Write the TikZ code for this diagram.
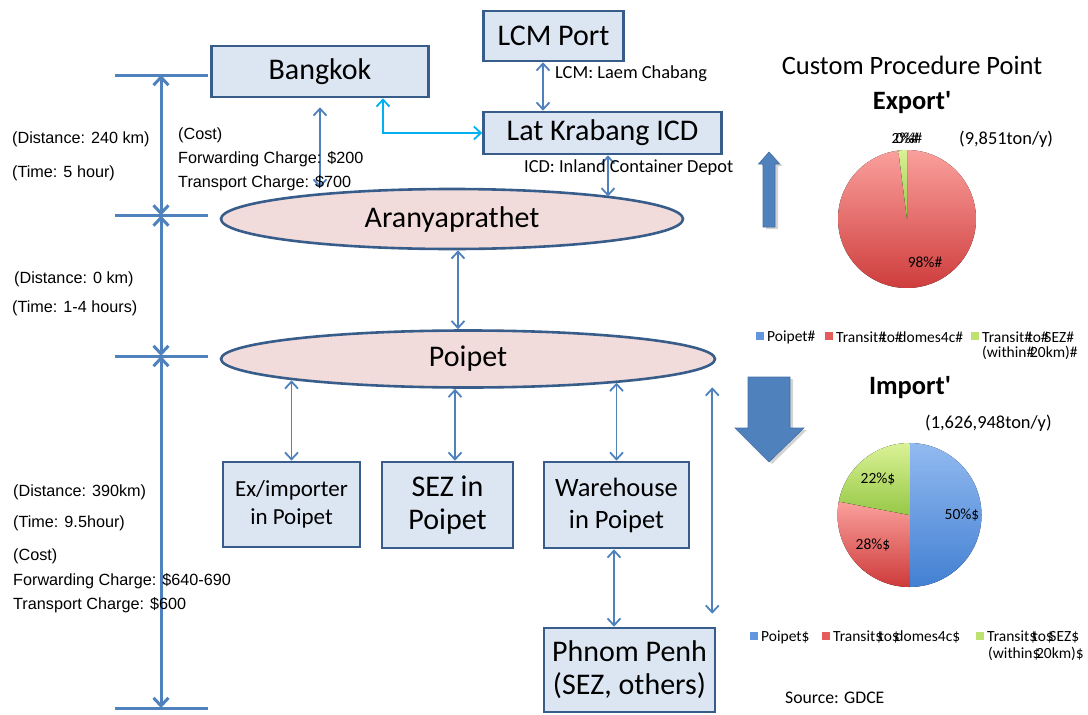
\documentclass[tikz,border=0pt]{standalone}
\usepackage{fontspec}
\setmainfont{Carlito}[Ligatures=TeXOff]
\newfontfamily\arialfont{Liberation Sans}
\usetikzlibrary{arrows.meta,shapes.geometric,shadows}
\definecolor{boxfill}{RGB}{220,230,242}
\definecolor{boxline}{RGB}{56,93,138}
\definecolor{ellfill}{RGB}{242,220,219}
\definecolor{linkblue}{RGB}{79,129,189}
\definecolor{linkcyan}{RGB}{0,176,240}
\definecolor{redtop}{RGB}{250,160,156}
\definecolor{redbot}{RGB}{205,58,58}
\definecolor{bluetop}{RGB}{146,186,240}
\definecolor{bluebot}{RGB}{66,128,210}
\definecolor{greentop}{RGB}{218,242,150}
\definecolor{greenbot}{RGB}{150,200,70}
\definecolor{legblue}{RGB}{98,150,222}
\definecolor{legred}{RGB}{228,92,92}
\definecolor{leggreen}{RGB}{190,226,112}
\newcommand\sz[2]{\fontsize{#1pt}{#2pt}\selectfont}
% a separator glyph that runs into the following letter
\newcommand\sep[1]{\makebox[3.5pt][l]{#1}}
\begin{document}
\begin{tikzpicture}[x=1pt,y=-1pt,
  box/.style={draw=boxline, line width=2.6pt, fill=boxfill, inner sep=0pt,
    align=center, font=\sz{30}{33}},
  place/.style={ellipse, draw=boxline, line width=2.6pt, fill=ellfill,
    inner sep=0pt, font=\sz{30}{33}},
  conn/.style={linkblue, line width=1.8pt,
    {Straight Barb[length=7pt,width=13pt]}-{Straight Barb[length=7pt,width=13pt]}},
  cyanconn/.style={linkcyan, line width=1.8pt,
    {Straight Barb[length=7pt,width=13pt]}-{Straight Barb[length=7pt,width=13pt]}},
  dimline/.style={linkblue, line width=3pt,
    {Straight Barb[length=8pt,width=15pt]}-{Straight Barb[length=8pt,width=15pt]}},
  tickline/.style={linkblue, line width=3pt},
  note/.style={font=\arialfont\sz{16.2}{19}, anchor=west, inner sep=0pt},
  cnote/.style={font=\sz{18.4}{21}, anchor=west, inner sep=0pt},
  pielabel/.style={font=\sz{15.5}{17}, inner sep=0pt},
  legend/.style={font=\sz{15.5}{18}, anchor=west, inner sep=0pt},
  legbox/.style={minimum size=7.5pt, inner sep=0pt},
  blockarrow/.style={fill=linkblue, draw=linkblue!85!black, line width=0.6pt,
    drop shadow={shadow xshift=3pt, shadow yshift=-2pt, opacity=0.35}}
]
\useasboundingbox (0,0) rectangle (1088,715);

% places and facilities
\node[box, minimum width=217pt, minimum height=51pt] (bkk) at (320,71.5) {Bangkok};
\node[box, minimum width=140pt, minimum height=50pt] (lcm) at (553.5,36) {LCM Port};
\node[box, minimum width=238pt, minimum height=42pt] (lat) at (602.5,133) {Lat Krabang ICD};
\node[place, minimum width=462pt, minimum height=60pt] (ara) at (452,219) {Aranyaprathet};
\node[place, minimum width=494pt, minimum height=57pt] (poi) at (468,359) {Poipet};
\node[box, minimum width=137pt, minimum height=85pt, font=\sz{23}{28}] (exi) at (291.5,504.5) {Ex/importer\\in Poipet};
\node[box, minimum width=131pt, minimum height=86pt] (sez) at (447.5,505) {SEZ in\\Poipet};
\node[box, minimum width=145pt, minimum height=86pt, font=\sz{26.5}{32}] (war) at (616.5,505) {Warehouse\\in Poipet};
\node[box, minimum width=171pt, minimum height=84pt] (pnh) at (629.5,670) {Phnom Penh\\(SEZ, others)};

% links
\draw[conn] ([yshift=-9pt]bkk.south) -- (bkk.south |- ara.north);
\draw[cyanconn] ([xshift=63pt]bkk.south) |- (lat.west);
\draw[conn] ([xshift=-10.5pt]lcm.south) -- ([xshift=-10.5pt]lcm.south |- lat.north);
\draw[conn] ([xshift=5.5pt]lat.south) -- ([xshift=5.5pt]lat.south |- ara.8);
\draw[conn] ([xshift=6pt]ara.south) -- ([xshift=6pt]ara.south |- poi.north);
\draw[conn] (exi.north) -- (exi.north |- poi.-7);
\draw[conn] ([xshift=7.5pt]sez.north) -- ([xshift=7.5pt]sez.north |- poi.south);
\draw[conn] (war.north) -- (war.north |- poi.-9);
\draw[conn] ([xshift=-2.5pt]war.south) -- ([xshift=-2.5pt]war.south |- pnh.north);
\draw[conn] ([xshift=-4pt,yshift=13pt]pnh.north east) -- ([xshift=-4pt]pnh.north east |- poi.-20);

\node[cnote] (lcmnote) at (555,74) {LCM: Laem Chabang};
\node[cnote] (icdnote) at (524,168) {ICD: Inland Container Depot};

% distance scale
\coordinate (d0) at (161,75);
\coordinate (d1) at (161,215.5);
\coordinate (d2) at (161,356);
\coordinate (d3) at (161,708);
\foreach \d in {d0,d1,d2,d3} \draw[tickline] (\d) +(-46,0) -- +(47,0);
\draw[dimline] (d0) -- (d1);
\draw[dimline] (d1) -- (d2);
\draw[dimline] (d2) -- (d3);

\node[note] (n1) at (12,139) {(Distance: 240 km)};
\node[note] (n2) at (12,173) {(Time: 5 hour)};
\node[note] (n3) at (178,135) {(Cost)};
\node[note] (n4) at (178,159) {Forwarding Charge: \$200};
\node[note] (n5) at (178,183) {Transport Charge: \$700};
\node[note] (n6) at (14,279) {(Distance: 0 km)};
\node[note] (n7) at (12,308) {(Time: 1-4 hours)};
\node[note] (n8) at (13,492) {(Distance: 390km)};
\node[note] (n9) at (13,523) {(Time: 9.5hour)};
\node[note] (n10) at (13,556) {(Cost)};
\node[note] (n11) at (13,581) {Forwarding Charge: \$640-690};
\node[note] (n12) at (13,605) {Transport Charge: \$600};

% direction arrows
\filldraw[blockarrow] (763,227) -- (763,164) -- (758.5,164) -- (769,152) -- (779.5,164) -- (775,164) -- (775,227) -- cycle;
\filldraw[blockarrow] (748,377) -- (790,377) -- (790,428) -- (804,428) -- (769,462) -- (735,428) -- (748,428) -- cycle;

% customs charts
\node[font=\sz{26.5}{30}, inner sep=0pt] (cpp) at (912,65) {Custom Procedure Point};
\node[font=\bfseries\sz{26.5}{30}, inner sep=0pt] (ext) at (912,103) {Export'};
\node[font=\sz{18.4}{21}, anchor=west, inner sep=0pt] (exv) at (959,139) {(9,851ton/y)};

\begin{scope}[shift={(907,219)}, y=1pt]
  \fill[shading=axis, top color=redtop, bottom color=redbot]
    (0,0) -- (97.2:69) arc[start angle=97.2, end angle=450, radius=69] -- cycle;
  \fill[shading=axis, top color=greentop, bottom color=greenbot]
    (0,0) -- (90:69) arc[start angle=90, end angle=97.2, radius=69] -- cycle;
\end{scope}
\node[pielabel] (e2) at (905,138) {2\%\#};
\node[pielabel] (e0) at (909,138) {0\%\#};
\node[pielabel] (e98) at (925,262) {98\%\#};

\node[legbox, fill=legblue] (lb1) at (760,336) {};
\node[legend] (lt1) at (767,337) {Poipet\#};
\node[legbox, fill=legred] (lb2) at (829,336) {};
\node[legend] (lt2) at (836,337) {Transit\sep{\#}to\sep{\#}domes4c\#};
\node[legbox, fill=leggreen] (lb3) at (975,336) {};
\node[legend] (lt3) at (982,337) {Transit\sep{\#}to\sep{\#}SEZ\#};
\node[legend] (lt4) at (982,353) {(within\sep{\#}20km)\#};

\node[font=\bfseries\sz{26.5}{30}, inner sep=0pt] (imt) at (910,388) {Import'};
\node[font=\sz{18.4}{21}, anchor=west, inner sep=0pt] (imv) at (925,423) {(1,626,948ton/y)};

\begin{scope}[shift={(909.5,515)}, y=1pt]
  \fill[shading=axis, top color=bluetop, bottom color=bluebot]
    (0,0) -- (-90:72) arc[start angle=-90, end angle=90, radius=72] -- cycle;
  \fill[shading=axis, top color=redtop, bottom color=redbot]
    (0,0) -- (169.2:72) arc[start angle=169.2, end angle=270, radius=72] -- cycle;
  \fill[shading=axis, top color=greentop, bottom color=greenbot]
    (0,0) -- (90:72) arc[start angle=90, end angle=169.2, radius=72] -- cycle;
\end{scope}
\node[pielabel] (i50) at (962,515) {50\%\$};
\node[pielabel] (i28) at (873,545) {28\%\$};
\node[pielabel] (i22) at (878,479) {22\%\$};

\node[legbox, fill=legblue] (lb5) at (754,636) {};
\node[legend] (lt5) at (761,637) {Poipet\$};
\node[legbox, fill=legred] (lb6) at (826,636) {};
\node[legend] (lt6) at (833,637) {Transit\sep{\$}to\sep{\$}domes4c\$};
\node[legbox, fill=leggreen] (lb7) at (980,636) {};
\node[legend] (lt7) at (987,637) {Transit\sep{\$}to\sep{\$}SEZ\$};
\node[legend] (lt8) at (988,654) {(within\sep{\$}20km)\$};

\node[font=\sz{17.7}{20}, anchor=west, inner sep=0pt] (src) at (785,698) {Source: GDCE};
\end{tikzpicture}
\end{document}
